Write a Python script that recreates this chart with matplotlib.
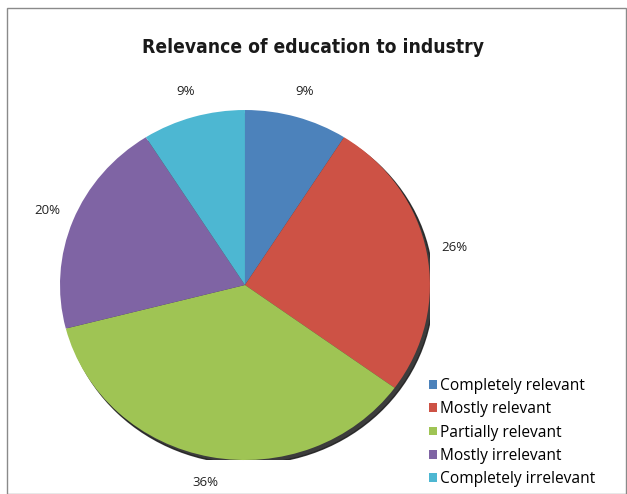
import matplotlib.pyplot as plt
from matplotlib import font_manager
from matplotlib.patches import Ellipse, Rectangle

categories = ["Completely relevant", "Mostly relevant", "Partially relevant",
              "Mostly irrelevant", "Completely irrelevant"]
shares = [9, 26, 36, 20, 9]
colors = ["#4c82bb", "#cd5245", "#9fc454", "#7f64a4", "#4db7d2"]

# narrow bold face for the heading, whatever is on this machine
installed = font_manager.fontManager.ttflist
narrow = [f for f in installed
          if f.stretch in ("condensed", "semi-condensed", "extra-condensed")
          or "Narrow" in f.name or "Condensed" in f.name]
if any(f.name == "Liberation Sans Narrow" for f in installed):
    title_font = dict(family="Liberation Sans Narrow")
elif narrow:
    title_font = dict(family=narrow[0].name, stretch=narrow[0].stretch)
else:
    title_font = dict(family="Roboto")

fig = plt.figure(figsize=(6.27, 4.94), dpi=100)
fig.patch.set_facecolor("white")

ax = fig.add_axes([0.0957, 0.0688, 0.590, 0.7085])

# dark rim on the lower right, sits behind the wedges
ax.add_patch(Ellipse((0.018, -0.022), 2.0, 2.0, color="#1a1a1a", alpha=0.85, zorder=0))

wedges, texts, autotexts = ax.pie(
    shares, colors=colors, startangle=90, counterclock=False,
    autopct="%1.0f%%", pctdistance=1.15,
    wedgeprops=dict(linewidth=0, zorder=1),
    textprops=dict(fontsize=9.5, family=["Open Sans", "DejaVu Sans"], color="#222222"),
)
for t in autotexts:
    t.set_bbox(dict(facecolor="white", edgecolor="none", pad=1.5))

ax.set_aspect("auto")
ax.set_xlim(-1, 1)
ax.set_ylim(-1, 1)
ax.axis("off")

fig.text(0.5, 0.903, "Relevance of education to industry", ha="center", va="center",
         fontsize=13.8, fontweight="bold", color="#1a1a1a", **title_font)

fig.legend(wedges, categories, loc="upper left", bbox_to_anchor=(0.675, 0.247),
           frameon=False, handlelength=0.5, handleheight=0.5, handletextpad=0.2,
           labelspacing=0.46, borderaxespad=0,
           prop=dict(family=["Open Sans", "DejaVu Sans"], size=11.2))

# thin frame round the whole figure
fig.add_artist(Rectangle((7 / 627, 0), 619 / 627, 1 - 8 / 494, transform=fig.transFigure,
                         fill=False, edgecolor="#8a8a8a", linewidth=1))

fig.savefig("out.png", dpi=100)
